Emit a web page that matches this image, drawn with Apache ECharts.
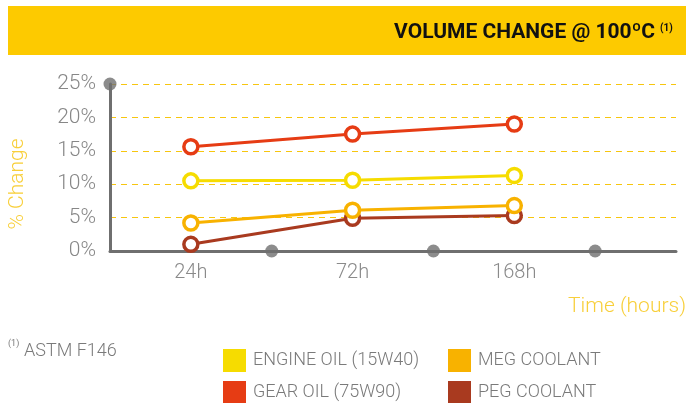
<!DOCTYPE html>
<html><head><meta charset="utf-8">
<script src="https://cdn.jsdelivr.net/npm/echarts@6/dist/echarts.min.js"></script>
<style>html,body{margin:0;padding:0;background:#fff}#c{width:686px;height:403px}</style>
</head><body><div id="c"></div>
<script>
const categories = ['24h', '72h', '168h'];
const categoryPos = [0.5, 1.5, 2.5];
const engineOil = [10.5, 10.6, 11.3];
const gearOil = [15.6, 17.5, 19.0];
const megCoolant = [4.2, 6.1, 6.8];
const pegCoolant = [1.0, 4.9, 5.3];
const yTicks = [0, 5, 10, 15, 20, 25];
const axisDots = [[1, 0], [2, 0], [3, 0], [0, 25]];

const seriesDefs = [
  {name: 'PEG COOLANT', data: pegCoolant, color: '#a93a1f'},
  {name: 'MEG COOLANT', data: megCoolant, color: '#f8b200'},
  {name: 'ENGINE OIL (15W40)', data: engineOil, color: '#f6dc00'},
  {name: 'GEAR OIL (75W90)', data: gearOil, color: '#e63c14'}
];
const colorOf = {};
seriesDefs.forEach(function (s) { colorOf[s.name] = s.color; });
const gray = '#6f6f6f';
const font = 'Roboto';
const chart = echarts.init(document.getElementById('c'));

function legendAt(name, left, top) {
  return {
    data: [{name: name, itemStyle: {color: colorOf[name], borderWidth: 0}}],
    left: left, top: top, orient: 'horizontal',
    icon: 'rect', itemWidth: 23, itemHeight: 23, itemGap: 0, padding: 0,
    selectedMode: false,
    textStyle: {color: '#7a7a7a', fontSize: 18, fontFamily: font, fontWeight: 300, padding: [0, 0, 0, 2]}
  };
}

const option = {
  animation: false,
  grid: {left: 110, top: 84, right: 10, bottom: 152, containLabel: false},
  xAxis: {
    type: 'value', min: 0, max: 3.5, interval: 0.5,
    axisLine: {show: true, lineStyle: {color: gray, width: 3}},
    axisTick: {show: false}, splitLine: {show: false},
    axisLabel: {
      color: '#8a8a8a', fontSize: 20, fontFamily: font, fontWeight: 300, margin: 12,
      showMinLabel: true, showMaxLabel: true,
      formatter: function (v) {
        const i = categoryPos.indexOf(v);
        return i >= 0 ? categories[i] : '';
      }
    }
  },
  yAxis: {
    type: 'value', min: yTicks[0], max: yTicks[yTicks.length - 1], interval: 5,
    axisLine: {show: true, lineStyle: {color: gray, width: 3}},
    axisTick: {show: false},
    axisLabel: {color: '#878787', fontSize: 21, fontFamily: font, fontWeight: 300, margin: 14, formatter: '{value}%'},
    splitLine: {show: true, lineStyle: {color: '#f7c60f', type: [6, 5], width: 1}}
  },
  legend: [
    legendAt('ENGINE OIL (15W40)', 223, 349),
    legendAt('MEG COOLANT', 448, 349),
    legendAt('GEAR OIL (75W90)', 223, 381),
    legendAt('PEG COOLANT', 448, 381)
  ],
  graphic: [
    {type: 'rect', x: 8, y: 6, shape: {width: 678, height: 49}, style: {fill: '#fdca00'}, z: 0},
    {type: 'text', x: 655, y: 33, z: 5, style: {
      text: 'VOLUME CHANGE @ 100ºC', align: 'right', verticalAlign: 'middle',
      fontFamily: font, fontWeight: 'bold', fontSize: 21, fill: '#111'
    }},
    {type: 'text', x: 660, y: 28, z: 5, style: {
      text: '(1)', align: 'left', verticalAlign: 'middle',
      fontFamily: font, fontWeight: 'bold', fontSize: 10, fill: '#111'
    }},
    {type: 'text', x: 18, y: 184, rotation: Math.PI / 2, z: 5, style: {
      text: '% Change', align: 'center', verticalAlign: 'middle',
      fontFamily: font, fontWeight: 300, fontSize: 21, fill: '#f8cf3a'
    }},
    {type: 'text', x: 686, y: 307, z: 5, style: {
      text: 'Time (hours)', align: 'right', verticalAlign: 'middle',
      fontFamily: font, fontWeight: 300, fontSize: 21, fill: '#f8cf3a'
    }},
    {type: 'text', x: 8, y: 344, z: 5, style: {
      text: '(1)', align: 'left', verticalAlign: 'middle',
      fontFamily: font, fontSize: 9, fill: '#7a7a7a'
    }},
    {type: 'text', x: 24, y: 351, z: 5, style: {
      text: 'ASTM F146', align: 'left', verticalAlign: 'middle',
      fontFamily: font, fontWeight: 300, fontSize: 18, fill: '#7a7a7a'
    }}
  ],
  series: seriesDefs.map(function (s, k) {
    return {
      name: s.name, type: 'line',
      data: s.data.map(function (v, i) { return [categoryPos[i], v]; }),
      symbol: 'circle', symbolSize: 14, showAllSymbol: true,
      lineStyle: {color: s.color, width: 3},
      itemStyle: {color: '#ffffff', borderColor: s.color, borderWidth: 3.5},
      z: 3 + k
    };
  }).concat([{
    type: 'scatter', data: axisDots, symbol: 'circle', symbolSize: 13,
    itemStyle: {color: gray}, clip: false, z: 10, silent: true
  }])
};
chart.setOption(option);
</script>
</body></html>
